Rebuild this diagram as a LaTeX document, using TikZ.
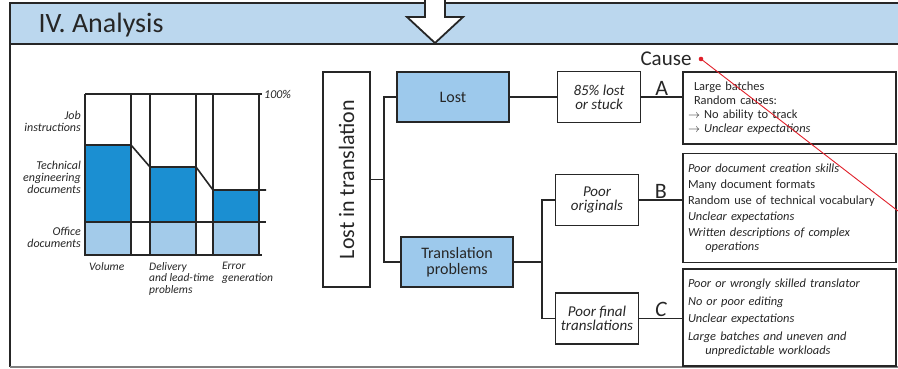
\documentclass[tikz,border=0pt]{standalone}
\usepackage{fontspec}
\setmainfont{Carlito}
\usepackage{tikz}
\usetikzlibrary{positioning}
\definecolor{hdrblue}{HTML}{BBD7EE}
\definecolor{boxblue}{HTML}{9DC9EC}
\definecolor{barblue}{HTML}{1B8FD2}
\definecolor{barlight}{HTML}{A3CBEA}
\definecolor{ink}{HTML}{262626}
\definecolor{pen}{HTML}{E0202A}

\begin{document}
\begin{tikzpicture}[x=1pt,y=1pt,color=ink,
node distance=47pt and 47pt,
  bbox/.style={draw,fill=boxblue,line width=1.6pt,minimum width=112pt,minimum height=50pt,inner sep=2pt,align=center,font=\fontsize{16}{16}\selectfont},
  wbox/.style={draw,line width=1.6pt,minimum width=83pt,minimum height=51pt,inner sep=1pt,align=center,font=\itshape\fontsize{15}{14}\selectfont},
  cbox/.style={draw,line width=1.6pt,minimum width=213pt,inner xsep=5pt,text width=203pt,align=left,font=\fontsize{12.4}{14}\selectfont},
  abc/.style={font=\fontsize{22}{22}\selectfont,inner sep=1pt},
  clbl/.style={font=\itshape\fontsize{12}{12}\selectfont,inner sep=0pt}
]
\useasboundingbox (0,0) rectangle (898,-369);
\fill[hdrblue] (10,-3) rectangle (898,-44);
\draw[line width=1.8pt] (898,-3) -- (10,-3) -- (10,-367);
\draw[line width=1.6pt] (10,-44) -- (898,-44);
\draw[line width=1.4pt,gray] (10,-367) -- (898,-367);
\node[anchor=west,font=\fontsize{28}{28}\selectfont] (TT) at (35,-25) {IV. Analysis};
\draw[fill=white,line width=1.8pt] (425,3) -- (425,-17) -- (407,-17) -- (435,-43) -- (463,-17) -- (445,-17) -- (445,3);

\foreach \xa/\ya in {85/145,150/167,213/190}{
  \fill[barblue] (\xa,-\ya) rectangle (\xa+46,-222);
  \fill[barlight] (\xa,-222) rectangle (\xa+46,-255);
  \draw[line width=1.6pt] (\xa,-94) -- (\xa,-255) (\xa+46,-94) -- (\xa+46,-255);
}
\draw[line width=1.6pt] (85,-94) -- (262,-94);
\draw[line width=1.6pt] (85,-145) -- (131,-145) -- (150,-167) -- (196,-167) -- (213,-190) -- (266,-190);
\draw[line width=1.6pt] (85,-222) -- (266,-222);
\draw[line width=2pt] (84,-255) -- (262,-255);
\node[clbl,anchor=west] (PC) at (264,-94) {100\%};
\node[clbl,anchor=east,align=right] (JI) at (81,-121) {Job\\instructions};
\node[clbl,anchor=east,align=right] (TE) at (81,-177) {Technical\\engineering\\documents};
\node[clbl,anchor=east,align=right] (OD) at (81,-237) {Office\\documents};
\node[clbl,anchor=north west,font=\itshape\fontsize{11.5}{11.5}\selectfont] (VO) at (89,-262) {Volume};
\node[clbl,anchor=north west,align=left,font=\itshape\fontsize{11.5}{11.5}\selectfont] (DL) at (149,-262) {Delivery\\and lead-time\\problems};
\node[clbl,anchor=north west,align=left,font=\itshape\fontsize{11.5}{11.5}\selectfont] (EG) at (222,-262) {Error\\generation};

\node[draw,line width=1.6pt,rotate=90,minimum width=215pt,minimum height=47pt,font=\fontsize{22}{22}\selectfont] (LT) at (346.5,-179.5) {Lost in translation};
\node[bbox] (L) at (453,-97) {Lost};
\node[bbox] (TP) at (457,-262) {Translation\\problems};
\node[wbox,right=of L] (S) {85\% lost\\or stuck};
\node[wbox] (PO) at (597,-200) {Poor\\originals};
\node[wbox,below=66pt of PO] (PF) {Poor final\\translations};
\node[cbox,minimum height=72pt] (CA) at (789.5,-108) {\hspace*{6pt}Large batches\\
\hspace*{6pt}Random causes:\\
$\rightarrow$ No ability to track\\
$\rightarrow$ \textit{Unclear expectations}};
\node[cbox,minimum height=109pt,below=8pt of CA] (CB) {\textit{Poor document creation skills}\\[2pt]
Many document formats\\[2pt]
Random use of technical vocabulary\\[2pt]
\textit{Unclear expectations}\\[2pt]
\textit{Written descriptions of complex}\\
\hspace*{1.4em}\textit{operations}};
\node[cbox,minimum height=97pt,below=5pt of CB] (CC) {\textit{Poor or wrongly skilled translator}\\[3.5pt]
\textit{No or poor editing}\\[3.5pt]
\textit{Unclear expectations}\\[3.5pt]
\textit{Large batches and uneven and}\\
\hspace*{1.4em}\textit{unpredictable workloads}};
\node[font=\fontsize{21}{21}\selectfont] (CS) at (666,-59) {Cause};

\coordinate (J1) at (384,-179.5);
\coordinate (J2) at (542,-262);
\draw[line width=1.6pt] (LT.south) -- (J1);
\draw[line width=1.6pt] (L.west) -| (J1) |- (TP.west);
\draw[line width=1.6pt] (L.east) -- (S.west);
\draw[line width=1.6pt] (TP.east) -- (J2);
\draw[line width=1.6pt] (PO.west) -| (J2) |- (PF.west);
\draw[line width=1.6pt] (S.east) -- (S.east -| CA.west) node[abc,midway,above] {A};
\draw[line width=1.6pt] (PO.east) -- (PO.east -| CB.west) node[abc,midway,above] {B};
\draw[line width=1.6pt] (PF.east) -- (PF.east -| CC.west) node[abc,midway,above,font=\itshape\fontsize{22}{22}\selectfont] {C};

\coordinate (RD) at (701,-59);
\coordinate (RE) at (898,-211);
\draw[pen,line width=0.9pt] (RD) -- (RE);
\fill[pen] (RD) circle (2.3);
\end{tikzpicture}
\end{document}
